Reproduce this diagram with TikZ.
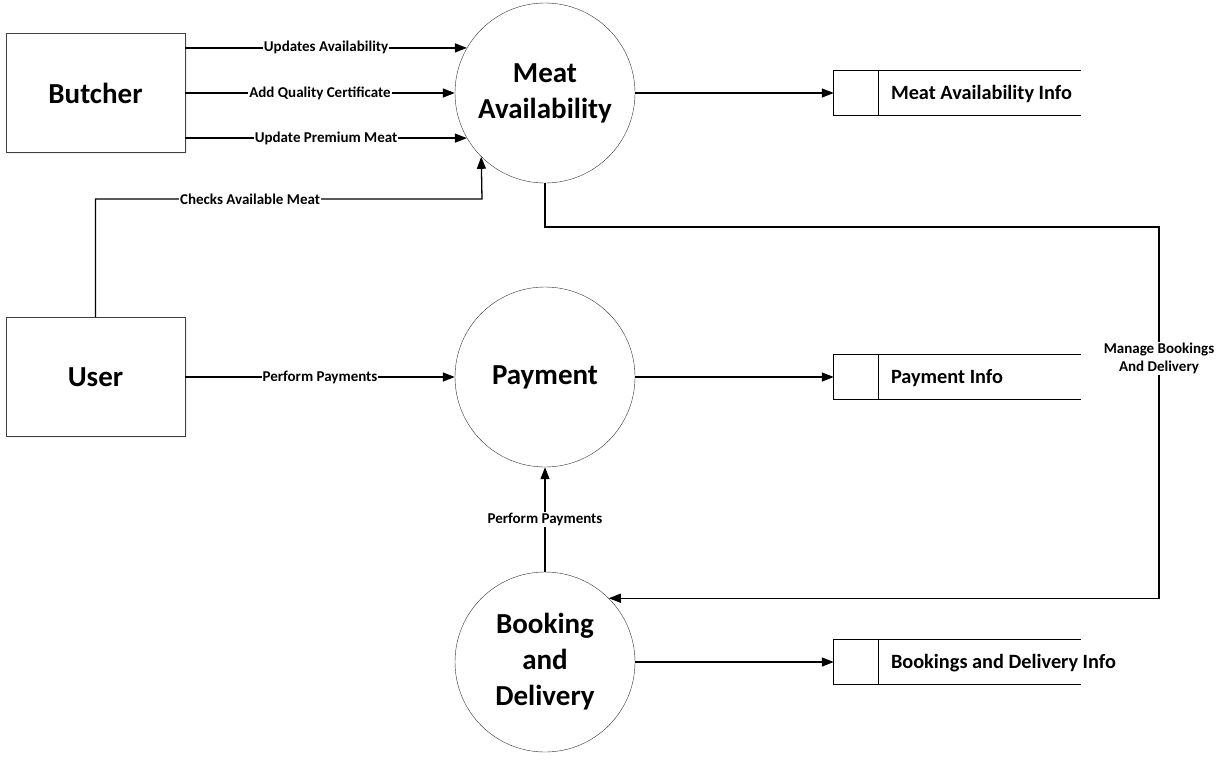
\documentclass[tikz,border=0pt]{standalone}
\usepackage{fontspec}
\setmainfont{Carlito}
\usepackage{tikz}
\usetikzlibrary{arrows.meta,positioning,calc,shadows}

\begin{document}
\begin{tikzpicture}[
    x=1pt, y=-1pt,
    entity/.style={draw=black!75, fill=white, minimum width=179pt, minimum height=119pt, font=\fontsize{29}{33}\selectfont\bfseries, drop shadow={opacity=0.12, shadow xshift=1.5pt, shadow yshift=-1.5pt}},
    process/.style={circle, draw=black!80, fill=white, minimum size=180pt, inner sep=0pt, align=center, font=\fontsize{29}{36}\selectfont\bfseries},
    store/.style={minimum width=247pt, minimum height=45pt, inner sep=0pt},
    storeline/.style={line width=1.2pt},
    storetxt/.style={anchor=west, inner sep=0pt, font=\fontsize{20.3}{24}\selectfont\bfseries},
    flow/.style={fill=white, inner sep=1pt, align=center, font=\fontsize{15}{18}\selectfont\bfseries},
    arr/.style={-{Triangle[length=12pt, width=9pt]}, line width=1.3pt},
]
    \useasboundingbox (0,0) rectangle (1223,761);

    % External entities
    \node[entity] (butcher) at (95.5, 93) {Butcher};
    \node[entity] (user) at (95.5, 377) {User};

    % Processes
    \node[process] (meat) at (545, 93) {Meat\\Availability};
    \node[process] (payment) at (545, 377) {Payment};
    \node[process] (booking) at (545, 662) {Booking\\and\\Delivery};

    % Data stores
    \node[store] (meatinfo) at (957.5, 93) {};
    \node[store] (payinfo) at (957.5, 377) {};
    \node[store] (bookinfo) at (957.5, 662) {};
    \draw[storeline] (meatinfo.north east) -- (meatinfo.north west) -- (meatinfo.south west) -- (meatinfo.south east);
    \draw[storeline] ($(meatinfo.north west)+(45,0)$) -- ($(meatinfo.south west)+(45,0)$);
    \draw[storeline] (payinfo.north east) -- (payinfo.north west) -- (payinfo.south west) -- (payinfo.south east);
    \draw[storeline] ($(payinfo.north west)+(45,0)$) -- ($(payinfo.south west)+(45,0)$);
    \draw[storeline] (bookinfo.north east) -- (bookinfo.north west) -- (bookinfo.south west) -- (bookinfo.south east);
    \draw[storeline] ($(bookinfo.north west)+(45,0)$) -- ($(bookinfo.south west)+(45,0)$);
    \node[storetxt] (meatinfotxt) at ($(meatinfo.west)+(57,1)$) {Meat Availability Info};
    \node[storetxt] (payinfotxt) at ($(payinfo.west)+(57,1)$) {Payment Info};
    \node[storetxt] (bookinfotxt) at ($(bookinfo.west)+(57,1)$) {Bookings and Delivery Info};

    \coordinate (chk) at (482, 199);
    \coordinate (mgr) at (1159, 227);

    % Flows
    \draw[arr] (butcher.east |- meat.150) -- node[flow] {Updates Availability} (meat.150);
    \draw[arr] (butcher.east) -- node[flow] {Add Quality Certificate} (meat.west);
    \draw[arr] (butcher.east |- meat.210) -- node[flow] {Update Premium Meat} (meat.210);
    \draw[arr] (user.north) |- node[flow, pos=0.70] {Checks Available Meat} (chk) -- (meat.225);
    \draw[arr] (meat.south) |- (mgr) |- node[flow, pos=0.177] {Manage Bookings\\And Delivery} (booking.45);
    \draw[arr] (user.east) -- node[flow] {Perform Payments} (payment.west);
    \draw[arr] (booking.north) -- node[flow] {Perform Payments} (payment.south);
    \draw[arr] (meat.east) -- (meatinfo.west);
    \draw[arr] (payment.east) -- (payinfo.west);
    \draw[arr] (booking.east) -- (bookinfo.west);
\end{tikzpicture}
\end{document}
